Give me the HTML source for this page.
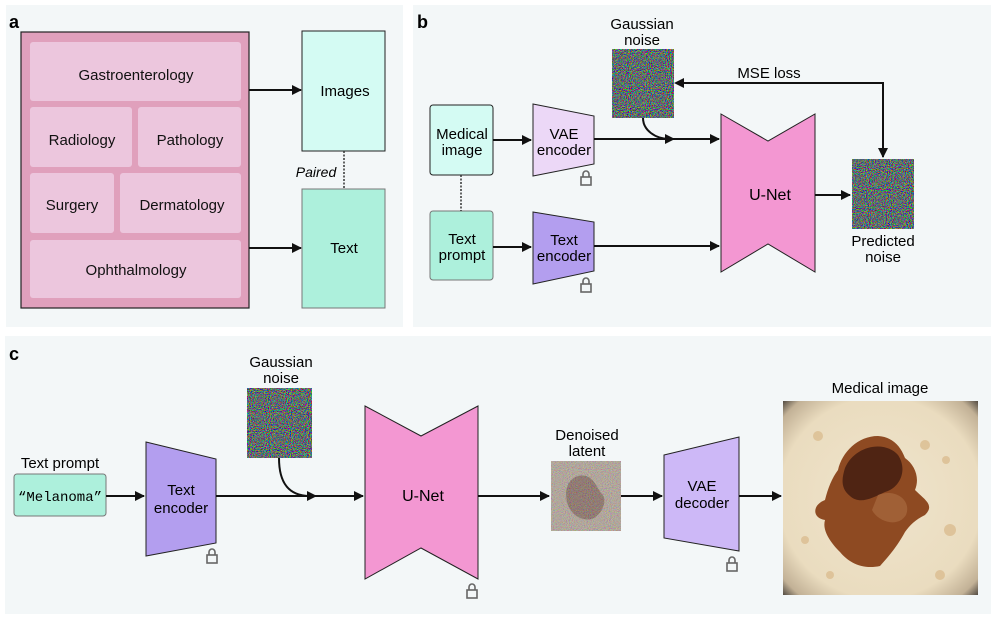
<!DOCTYPE html>
<html><head><meta charset="utf-8"><style>
html,body{margin:0;padding:0;background:#fff;}
svg{display:block;font-family:"Liberation Sans",Arial,sans-serif;}
</style></head><body>
<svg width="996" height="625" viewBox="0 0 996 625" xmlns="http://www.w3.org/2000/svg">
<defs>
<marker id="ah" markerWidth="10" markerHeight="10" refX="9" refY="5" orient="auto" markerUnits="userSpaceOnUse">
<path d="M0,0 L10,5 L0,10 z" fill="#111"/></marker>
<filter id="nz" x="0" y="0" width="100%" height="100%">
<feTurbulence type="fractalNoise" baseFrequency="0.95" numOctaves="2" seed="3" result="t"/>
<feColorMatrix in="t" type="matrix" values="2.0 -0.6 -0.6 0 -0.25  -0.6 2.0 -0.6 0 -0.2  -0.6 -0.6 2.0 0 -0.2  0 0 0 0 1"/>
</filter>
<filter id="nz2" x="0" y="0" width="100%" height="100%">
<feTurbulence type="fractalNoise" baseFrequency="0.95" numOctaves="2" seed="7" result="t"/>
<feColorMatrix in="t" type="matrix" values="1.4 -0.2 -0.2 0 0  -0.2 1.4 -0.2 0 -0.05  -0.2 -0.2 1.4 0 -0.05  0 0 0 0 0.5"/>
</filter>
<radialGradient id="skin" cx="50%" cy="50%" r="72%">
<stop offset="0%" stop-color="#efe4cc"/><stop offset="72%" stop-color="#eadcbf"/><stop offset="90%" stop-color="#c2b196"/><stop offset="100%" stop-color="#3a3530"/>
</radialGradient>
<g id="lock"><rect x="-5" y="-3" width="10" height="8" fill="none" stroke="#666" stroke-width="1.6"/><path d="M-3,-3 V-6 a3,3 0 0 1 6,0 V-3" fill="none" stroke="#666" stroke-width="1.6"/></g>
</defs>

<rect x="6" y="5" width="397" height="322" fill="#f3f7f8"/>
<rect x="413" y="5" width="578" height="322" fill="#f3f7f8"/>
<rect x="5" y="336" width="986" height="278" fill="#f3f7f8"/>

<!-- panel a -->
<text x="9" y="28" font-size="18" font-weight="bold">a</text>
<rect x="21" y="32" width="228" height="276" fill="#e0a0bc" stroke="#222" stroke-width="1.2"/>
<g fill="#ecc6dd">
<rect x="30" y="42" width="211" height="59" rx="3"/>
<rect x="30" y="107" width="102" height="60" rx="3"/>
<rect x="138" y="107" width="103" height="60" rx="3"/>
<rect x="30" y="173" width="84" height="60" rx="3"/>
<rect x="120" y="173" width="121" height="60" rx="3"/>
<rect x="30" y="240" width="211" height="58" rx="3"/>
</g>
<g font-size="15" text-anchor="middle" fill="#111">
<text x="136" y="80">Gastroenterology</text>
<text x="82" y="145">Radiology</text>
<text x="190" y="145">Pathology</text>
<text x="72" y="210">Surgery</text>
<text x="182" y="210">Dermatology</text>
<text x="136" y="275">Ophthalmology</text>
</g>
<rect x="302" y="31" width="83" height="120" fill="#d4fbf3" stroke="#222"/>
<rect x="302" y="189" width="83" height="119" fill="#adf0dc" stroke="#777"/>
<text x="345" y="96" font-size="15" text-anchor="middle">Images</text>
<text x="344" y="253" font-size="15" text-anchor="middle">Text</text>
<line x1="249" y1="90" x2="301" y2="90" stroke="#111" stroke-width="2" marker-end="url(#ah)"/>
<line x1="249" y1="248" x2="301" y2="248" stroke="#111" stroke-width="2" marker-end="url(#ah)"/>
<line x1="344" y1="151" x2="344" y2="189" stroke="#333" stroke-width="1.5" stroke-dasharray="2,1.5"/>
<text x="316" y="177" font-size="14" font-style="italic" text-anchor="middle">Paired</text>

<!-- panel b -->
<text x="417" y="28" font-size="18" font-weight="bold">b</text>
<rect x="430" y="105" width="63" height="70" rx="3" fill="#d4fbf3" stroke="#222"/>
<rect x="430" y="211" width="63" height="69" rx="3" fill="#adf0dc" stroke="#777"/>
<line x1="461" y1="175" x2="461" y2="211" stroke="#333" stroke-width="1.5" stroke-dasharray="2,1.5"/>
<g font-size="15" text-anchor="middle">
<text x="462" y="139">Medical</text><text x="462" y="155">image</text>
<text x="462" y="244">Text</text><text x="462" y="260">prompt</text>
</g>
<path d="M533,104 L594,116 L594,164 L533,176 z" fill="#ecd8f7" stroke="#222"/>
<path d="M533,212 L594,222 L594,271 L533,284 z" fill="#b39eef" stroke="#222"/>
<g font-size="15" text-anchor="middle">
<text x="564" y="139">VAE</text><text x="564" y="155">encoder</text>
<text x="564" y="245">Text</text><text x="564" y="261">encoder</text>
</g>
<use href="#lock" x="586" y="180"/><use href="#lock" x="586" y="287"/>
<line x1="493" y1="140" x2="531" y2="140" stroke="#111" stroke-width="2" marker-end="url(#ah)"/>
<line x1="493" y1="247" x2="531" y2="247" stroke="#111" stroke-width="2" marker-end="url(#ah)"/>
<text x="642" y="29" font-size="15" text-anchor="middle">Gaussian</text>
<text x="642" y="45" font-size="15" text-anchor="middle">noise</text>
<rect x="612" y="49" width="62" height="69" fill="#8a8a8a"/>
<rect x="612" y="49" width="62" height="69" filter="url(#nz)"/>
<line x1="594" y1="139" x2="719" y2="139" stroke="#111" stroke-width="2" marker-end="url(#ah)"/>
<path d="M643,118 C643,130 655,139 670,139" fill="none" stroke="#111" stroke-width="2"/>
<path d="M665,134 L675,139 L665,144 z" fill="#111"/>
<line x1="594" y1="246" x2="719" y2="246" stroke="#111" stroke-width="2" marker-end="url(#ah)"/>
<path d="M721,114 L768,141 L815,114 L815,272 L768,244 L721,272 z" fill="#f397d2" stroke="#222"/>
<text x="770" y="200" font-size="16" text-anchor="middle">U-Net</text>
<line x1="815" y1="195" x2="850" y2="195" stroke="#111" stroke-width="2" marker-end="url(#ah)"/>
<rect x="852" y="159" width="62" height="70" fill="#8a8a8a"/>
<rect x="852" y="159" width="62" height="70" filter="url(#nz)"/>
<path d="M883,157 V83 H676" fill="none" stroke="#111" stroke-width="2"/>
<path d="M878,148 L883,158 L888,148 z" fill="#111"/>
<path d="M684,78 L674,83 L684,88 z" fill="#111"/>
<text x="769" y="78" font-size="15" text-anchor="middle">MSE loss</text>
<text x="883" y="246" font-size="15" text-anchor="middle">Predicted</text>
<text x="883" y="262" font-size="15" text-anchor="middle">noise</text>

<!-- panel c -->
<text x="9" y="360" font-size="18" font-weight="bold">c</text>
<text x="60" y="468" font-size="15" text-anchor="middle">Text prompt</text>
<rect x="14" y="474" width="92" height="42" rx="3" fill="#adf0dc" stroke="#777"/>
<text x="60" y="501" font-size="14" text-anchor="middle" font-family="Liberation Mono,monospace">“Melanoma”</text>
<line x1="106" y1="496" x2="144" y2="496" stroke="#111" stroke-width="2" marker-end="url(#ah)"/>
<path d="M146,442 L216,459 L216,543 L146,556 z" fill="#b39eef" stroke="#222"/>
<text x="181" y="495" font-size="15" text-anchor="middle">Text</text>
<text x="181" y="513" font-size="15" text-anchor="middle">encoder</text>
<use href="#lock" x="212" y="558"/>
<text x="281" y="367" font-size="15" text-anchor="middle">Gaussian</text>
<text x="281" y="383" font-size="15" text-anchor="middle">noise</text>
<rect x="247" y="388" width="65" height="70" fill="#8a8a8a"/>
<rect x="247" y="388" width="65" height="70" filter="url(#nz)"/>
<line x1="216" y1="496" x2="363" y2="496" stroke="#111" stroke-width="2" marker-end="url(#ah)"/>
<path d="M279,458 C279,482 288,496 310,496" fill="none" stroke="#111" stroke-width="2"/>
<path d="M307,491 L317,496 L307,501 z" fill="#111"/>
<path d="M365,406 L421,436 L478,406 L478,579 L421,548 L365,579 z" fill="#f397d2" stroke="#222"/>
<text x="423" y="501" font-size="16" text-anchor="middle">U-Net</text>
<use href="#lock" x="472" y="593"/>
<line x1="478" y1="496" x2="549" y2="496" stroke="#111" stroke-width="2" marker-end="url(#ah)"/>
<text x="587" y="440" font-size="15" text-anchor="middle">Denoised</text>
<text x="587" y="456" font-size="15" text-anchor="middle">latent</text>
<rect x="551" y="461" width="70" height="70" fill="#a89c88"/>
<path d="M566,492 C568,478 578,474 586,476 C594,478 597,488 602,494 C608,500 602,515 592,519 C580,522 565,512 566,492 z" fill="#5e3a2c" opacity="0.85"/>
<rect x="551" y="461" width="70" height="70" filter="url(#nz2)"/>
<line x1="621" y1="496" x2="662" y2="496" stroke="#111" stroke-width="2" marker-end="url(#ah)"/>
<path d="M664,455 L739,437 L739,551 L664,538 z" fill="#cdb8f7" stroke="#222"/>
<text x="702" y="491" font-size="15" text-anchor="middle">VAE</text>
<text x="702" y="508" font-size="15" text-anchor="middle">decoder</text>
<use href="#lock" x="732" y="566"/>
<line x1="739" y1="496" x2="781" y2="496" stroke="#111" stroke-width="2" marker-end="url(#ah)"/>
<text x="880" y="393" font-size="15" text-anchor="middle">Medical image</text>
<rect x="783" y="401" width="195" height="194" fill="url(#skin)"/>
<g fill="#d9b98a" opacity="0.7">
<circle cx="818" cy="436" r="5"/><circle cx="925" cy="445" r="5"/><circle cx="946" cy="460" r="4"/><circle cx="805" cy="540" r="4"/><circle cx="950" cy="530" r="6"/><circle cx="830" cy="575" r="4"/><circle cx="940" cy="575" r="5"/>
</g>
<path d="M838,470 C842,452 858,436 878,436 C892,437 900,445 905,458 C915,465 920,478 915,490 C925,500 935,505 925,515 C915,520 910,525 905,532 C898,545 890,555 880,566 C862,570 848,562 840,552 C830,542 822,530 825,520 C812,518 812,505 825,500 C828,488 832,478 838,470 z" fill="#8e4a22"/>
<path d="M845,468 C855,445 885,440 898,455 C908,470 900,488 885,492 C872,498 860,505 850,496 C840,488 842,478 845,468 z" fill="#4f2413"/>
<path d="M878,495 C895,488 912,500 906,515 C898,528 878,522 872,510 z" fill="#a86a3e" opacity="0.7"/>
</svg>
</body></html>
